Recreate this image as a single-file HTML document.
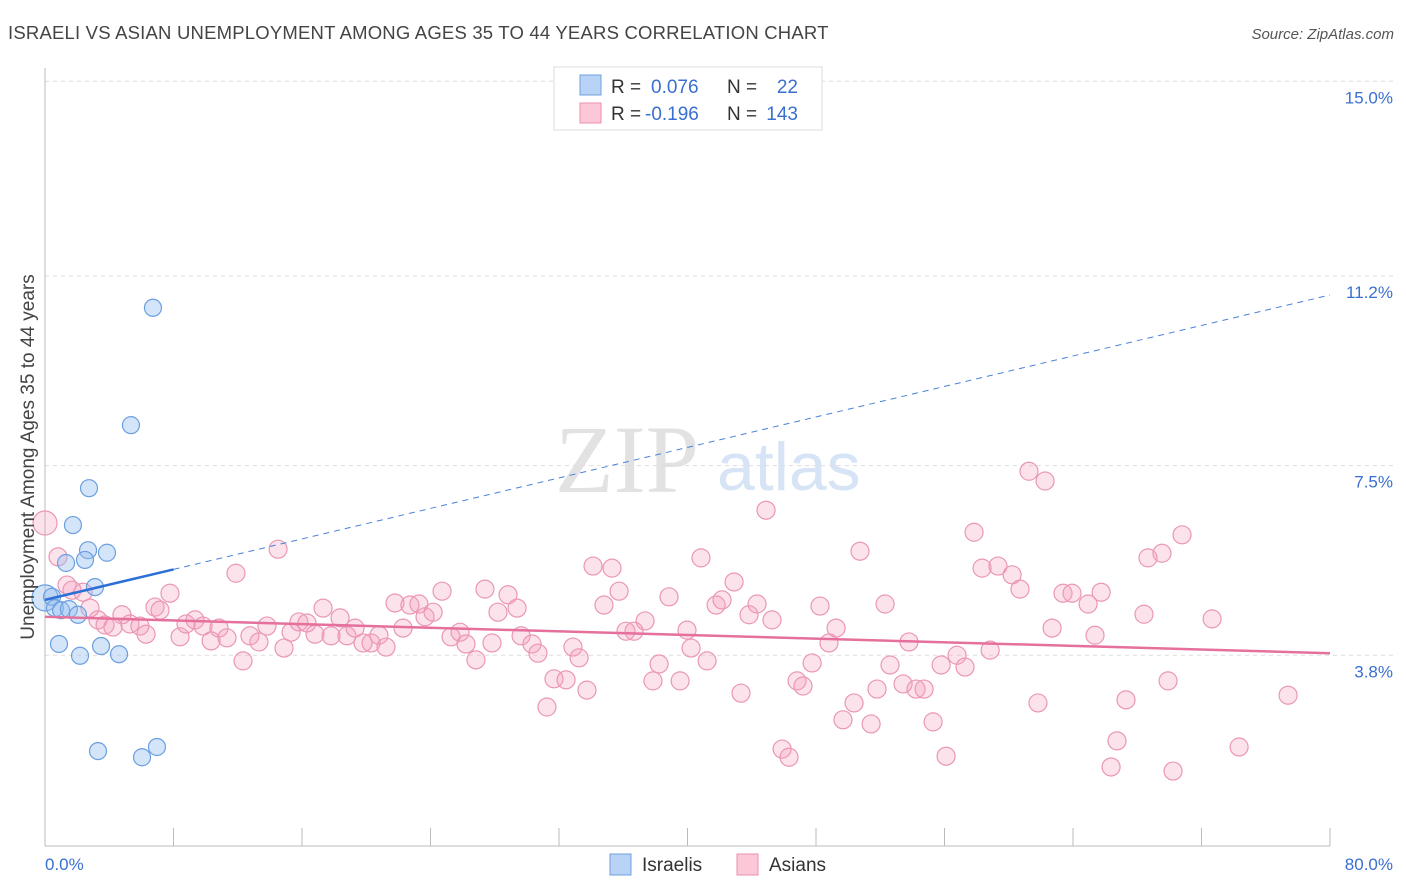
<!DOCTYPE html>
<html><head><meta charset="utf-8"><style>
body{margin:0;background:#fff;width:1406px;height:892px;overflow:hidden;font-family:"Liberation Sans",sans-serif}
svg{display:block}
</style></head><body>
<svg id="chart" width="1406" height="892" xmlns="http://www.w3.org/2000/svg">
<text x="8" y="39" font-size="18.5" fill="#444" letter-spacing="0.2">ISRAELI VS ASIAN UNEMPLOYMENT AMONG AGES 35 TO 44 YEARS CORRELATION CHART</text>
<text x="1394" y="39" font-size="15" fill="#555" font-style="italic" text-anchor="end">Source: ZipAtlas.com</text>
<g>
<text x="555" y="492" font-family="Liberation Serif,serif" font-size="96" fill="#e2e2e2">ZIP</text>
<text x="717" y="490" font-size="68" fill="#d6e4f6">atlas</text>
</g>
<g id="grid"></g>
<line x1="45" y1="68" x2="45" y2="846" stroke="#bbb"/>
<line x1="45" y1="846" x2="1330" y2="846" stroke="#bbb"/>
<g id="xticks"></g>
<g id="pts"></g>
<g id="trends"></g>
<text transform="translate(34,457) rotate(-90)" font-size="19" fill="#444" text-anchor="middle">Unemployment Among Ages 35 to 44 years</text>
<text x="45" y="870" font-size="17" fill="#3a6fd0">0.0%</text>
<text x="1393" y="870" font-size="17" fill="#3a6fd0" text-anchor="end">80.0%</text>
<g>
<rect x="554" y="67" width="268" height="63" fill="#fff" stroke="#ddd"/>
<rect x="580" y="75" width="21" height="20" fill="#b8d3f5" stroke="#6fa0e0"/>
<rect x="580" y="103" width="21" height="20" fill="#fcc8d8" stroke="#e98fb0"/>
<text x="611" y="93" font-size="19" fill="#333">R =</text><text x="651" y="93" font-size="19" fill="#3a6fd0">0.076</text>
<text x="727" y="93" font-size="19" fill="#333">N =</text><text x="798" y="93" font-size="19" fill="#3a6fd0" text-anchor="end">22</text>
<text x="611" y="120" font-size="19" fill="#333">R =</text><text x="645" y="120" font-size="19" fill="#3a6fd0">-0.196</text>
<text x="727" y="120" font-size="19" fill="#333">N =</text><text x="798" y="120" font-size="19" fill="#3a6fd0" text-anchor="end">143</text>
</g>
<g>
<rect x="610" y="854" width="21" height="21" fill="#b8d3f5" stroke="#6fa0e0"/>
<text x="642" y="871" font-size="19" fill="#333">Israelis</text>
<rect x="737" y="854" width="21" height="21" fill="#fcc8d8" stroke="#e98fb0"/>
<text x="769" y="871" font-size="19" fill="#333">Asians</text>
</g>
</svg>
<script>
const yTicks=[3.8,7.5,11.2,15.0];
const yTickLabels=["3.8%","7.5%","11.2%","15.0%"];
const xTickVals=[0,8,16,24,32,40,48,56,64,72,80];
const israeliX=[6.72,5.35,2.74,1.74,2.68,3.86,2.49,1.31,3.11,0.0,0.44,0.62,1.0,1.49,2.05,0.87,3.49,2.18,4.61,3.30,6.97,6.04];
const israeliY=[10.58,8.29,7.06,6.34,5.85,5.80,5.66,5.60,5.13,4.92,4.94,4.72,4.68,4.70,4.59,4.02,3.98,3.79,3.82,1.93,2.01,1.81];
const asianX=[0.00,0.81,1.37,1.68,2.37,2.80,3.30,3.74,4.23,4.79,5.29,5.91,6.29,6.85,7.16,7.78,8.41,8.78,9.34,9.84,10.34,10.83,11.33,11.89,12.33,12.76,13.32,13.82,14.51,14.88,15.32,15.81,16.31,16.81,17.31,17.81,18.37,18.80,19.30,19.80,20.30,20.79,21.23,21.79,22.29,22.72,23.28,23.66,24.16,24.72,25.28,25.84,26.21,26.83,27.39,27.83,28.20,28.83,29.39,29.64,30.32,30.69,31.25,31.69,32.44,32.87,33.25,33.74,34.12,34.80,35.30,35.74,36.17,36.67,37.36,37.85,38.23,38.85,39.54,39.97,40.22,40.84,41.22,41.78,42.15,42.90,43.33,43.83,44.33,44.89,45.26,45.89,46.32,46.82,47.19,47.76,48.25,48.81,49.25,49.68,50.37,50.74,51.43,51.80,52.30,52.61,53.42,53.79,54.23,54.73,55.29,55.79,56.10,56.78,57.28,57.84,58.34,58.84,59.33,60.21,60.70,61.26,61.82,62.26,62.70,63.38,63.94,64.94,65.37,65.75,66.37,66.74,67.30,68.42,68.67,69.54,69.92,70.23,70.79,72.66,74.34,77.39];
const asianY=[6.38,5.72,5.17,5.07,5.03,4.72,4.49,4.39,4.35,4.59,4.41,4.37,4.21,4.74,4.68,5.01,4.16,4.41,4.49,4.37,4.08,4.33,4.14,5.40,3.69,4.18,4.06,4.37,5.87,3.94,4.25,4.45,4.43,4.21,4.72,4.18,4.53,4.18,4.33,4.04,4.04,4.19,3.96,4.82,4.33,4.78,4.80,4.55,4.64,5.05,4.16,4.25,4.02,3.71,5.09,4.04,4.64,4.98,4.72,4.18,4.02,3.84,2.79,3.34,3.32,3.96,3.75,3.12,5.54,4.78,5.50,5.05,4.27,4.27,4.47,3.30,3.63,4.94,3.30,4.29,3.94,5.70,3.69,4.78,4.88,5.23,3.06,4.59,4.80,6.63,4.49,1.97,1.81,3.30,3.20,3.65,4.76,4.04,4.33,2.54,2.87,5.83,2.46,3.14,4.80,3.61,3.24,4.06,3.14,3.14,2.50,3.61,1.83,3.80,3.57,6.20,5.50,3.90,5.54,5.37,5.09,7.39,2.87,7.20,4.33,5.01,5.01,4.80,4.19,5.03,1.62,2.13,2.93,4.60,5.70,5.79,3.30,1.54,6.15,4.51,2.01,3.02];
const israeliTrend=[4.88,10.83];
const asianTrend=[4.55,3.84];
const israeliSolidEnd=8;

const X0=45,X1=1330,Y0px=850,PXY=51.25;
const sx=v=>X0+(v/80)*(X1-X0);
const sy=v=>Y0px-v*PXY;
const NS="http://www.w3.org/2000/svg";
function mk(tag,attrs,parent){const e=document.createElementNS(NS,tag);for(const k in attrs)e.setAttribute(k,attrs[k]);parent.appendChild(e);return e;}
const grid=document.getElementById('grid');
yTicks.forEach((t,i)=>{
 const l=mk('line',{x1:45,x2:1393,y1:sy(t),y2:sy(t),stroke:'#ddd','stroke-dasharray':'4,4'},grid);
 
 
 const tx=mk('text',{x:1393,y:sy(t)+22,'font-size':17,fill:'#3a6fd0','text-anchor':'end'},grid);
 tx.textContent=yTickLabels[i];
 
 
});
const xt=document.getElementById('xticks');
xTickVals.forEach(v=>{
 const l=mk('line',{x1:sx(v),x2:sx(v),y1:828,y2:846,stroke:'#bbb'},xt);
 
 
});
const pts=document.getElementById('pts');
asianX.forEach((x,i)=>{
 const c=mk('circle',{cx:sx(x),cy:sy(asianY[i]),r:i===0?12:9,fill:'rgba(245,160,190,0.3)',stroke:'#ea97b5','stroke-width':1.2},pts);
 
 
});
israeliX.forEach((x,i)=>{
 const c=mk('circle',{cx:sx(x),cy:sy(israeliY[i]),r:i===9?13:8.5,fill:'rgba(150,190,240,0.4)',stroke:'#6b9fe0','stroke-width':1.2},pts);
 
 
});
const tr=document.getElementById('trends');
const iy=x=>israeliTrend[0]+(israeliTrend[1]-israeliTrend[0])*x/80;
const ay=x=>asianTrend[0]+(asianTrend[1]-asianTrend[0])*x/80;
let l1=mk('line',{x1:sx(0),y1:sy(iy(0)),x2:sx(israeliSolidEnd),y2:sy(iy(israeliSolidEnd)),stroke:'#2c6fd6','stroke-width':2.5},tr);


let l2=mk('line',{x1:sx(israeliSolidEnd),y1:sy(iy(israeliSolidEnd)),x2:sx(80),y2:sy(iy(80)),stroke:'#4a82d8','stroke-width':1,'stroke-dasharray':'6,5'},tr);


let l3=mk('line',{x1:sx(0),y1:sy(ay(0)),x2:sx(80),y2:sy(ay(80)),stroke:'#e5709c','stroke-width':2.5},tr);


</script>
</body></html>
